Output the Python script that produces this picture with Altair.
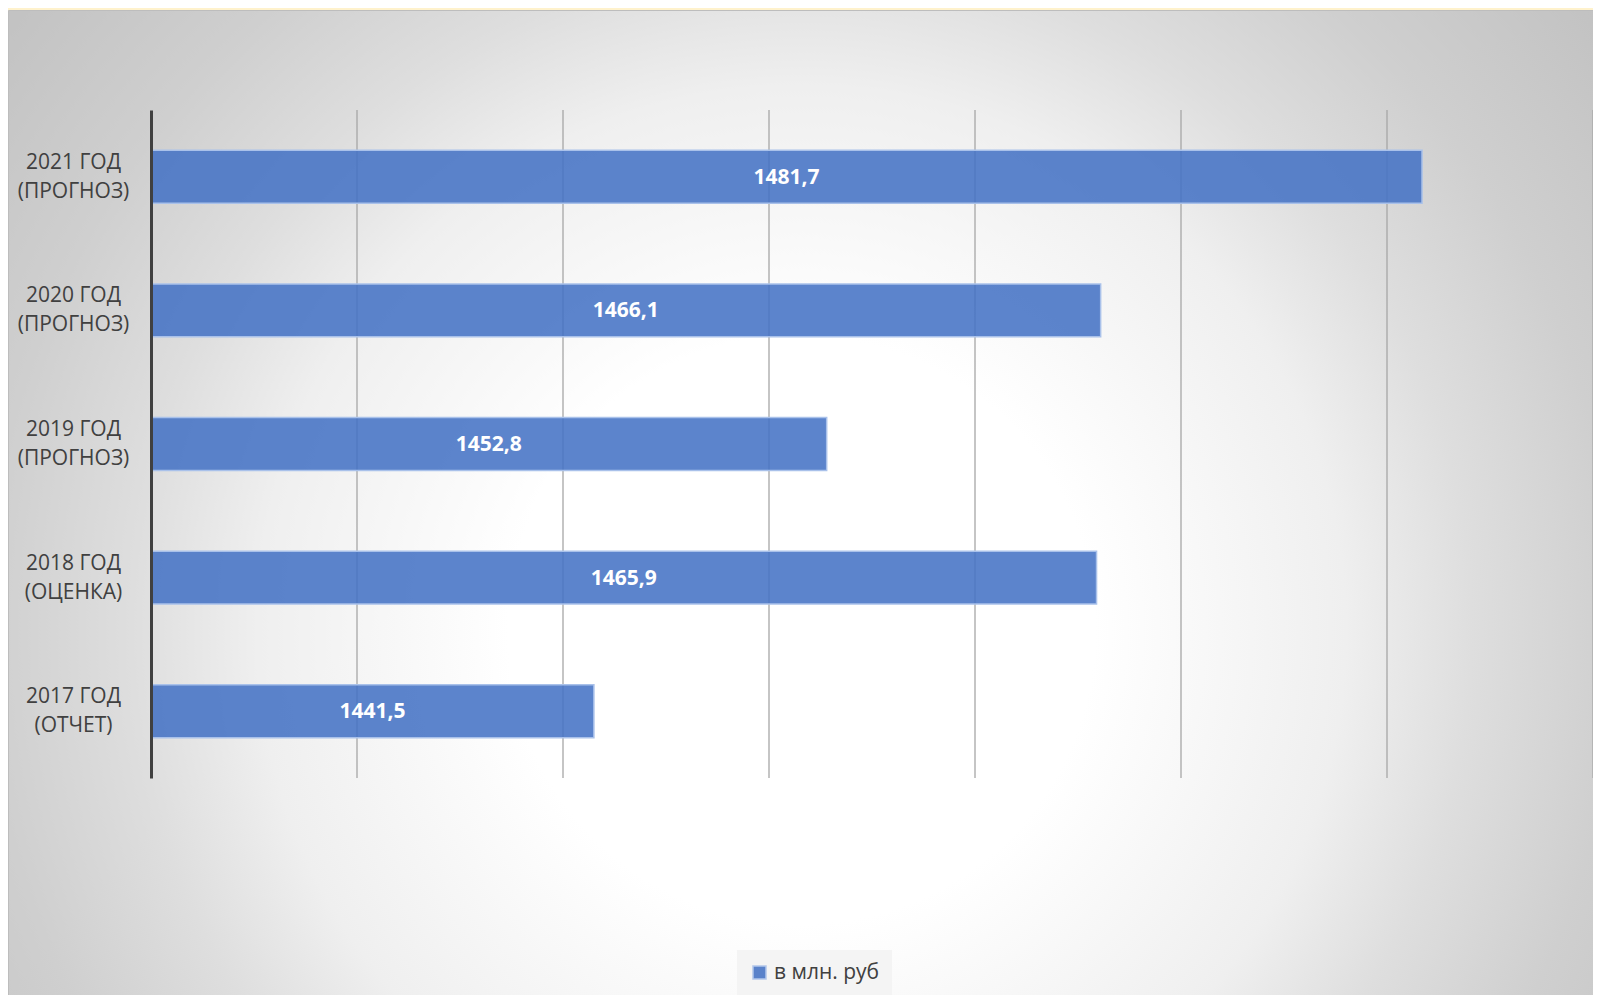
import altair as alt
import pandas as pd

# ---- data ----
categories = ["2021 ГОД|(ПРОГНОЗ)", "2020 ГОД|(ПРОГНОЗ)", "2019 ГОД|(ПРОГНОЗ)",
              "2018 ГОД|(ОЦЕНКА)", "2017 ГОД|(ОТЧЕТ)"]
values = [1481.7, 1466.1, 1452.8, 1465.9, 1441.5]
series_name = "в млн. руб"
grid_ticks = [1430, 1440, 1450, 1460, 1470, 1480, 1490]
x_domain = [1420, 1490]

df = pd.DataFrame({"cat": categories, "v": values, "series": [series_name] * len(values)})
grid_df = pd.DataFrame({"v": grid_ticks})
bg_df = pd.DataFrame({"k": [0]})

FONT = "Open Sans"
TXT = "#404040"
PW, PH = 1442, 668
PAD = {"left": 143, "top": 102, "right": 0, "bottom": 217}

xscale = alt.Scale(domain=x_domain, nice=False, zero=False)

gradient = {
    "gradient": "radial",
    "x1": 0.5, "y1": 0.58, "r1": 0,
    "x2": 0.5, "y2": 0.58, "r2": 0.66,
    "stops": [
        {"offset": 0.0, "color": "#ffffff"},
        {"offset": 0.28, "color": "#ffffff"},
        {"offset": 0.52, "color": "#efefef"},
        {"offset": 0.64, "color": "#dedede"},
        {"offset": 0.78, "color": "#cfcfcf"},
        {"offset": 0.95, "color": "#c3c3c3"},
        {"offset": 1.0, "color": "#c1c1c1"},
    ],
}

background = alt.Chart(bg_df).mark_rect(
    fill=gradient, stroke="#bdbdbd", strokeWidth=1
).encode(
    x=alt.value(-PAD["left"] + 0.5), x2=alt.value(PW + PAD["right"] + 2),
    y=alt.value(-PAD["top"] + 2.5), y2=alt.value(PH + PAD["bottom"] + 2),
)

grid = alt.Chart(grid_df).mark_rule(color="#a6a6a6", strokeWidth=1.3).encode(
    x=alt.X("v:Q", scale=xscale, axis=None)
)

ysort = categories

bars = alt.Chart(df).mark_bar(
    fillOpacity=0.87, stroke="#a9c1ea", strokeWidth=1.5
).encode(
    x=alt.X("v:Q", scale=xscale, axis=None),
    x2=alt.datum(x_domain[0]),
    y=alt.Y(
        "cat:N", sort=ysort, title=None,
        scale=alt.Scale(paddingInner=0.604, paddingOuter=0.302),
        axis=alt.Axis(
            labelExpr="split(datum.label, '|')",
            labelAlign="center", labelBaseline="middle",
            labelPadding=78, labelOffset=-14, ticks=False, tickSize=0,
            labelFont=FONT, labelFontSize=21, labelColor=TXT,
            labelLineHeight=29, labelLimit=300,
            domainColor=TXT, domainWidth=3, grid=False, zindex=1,
        ),
    ),
    color=alt.Color(
        "series:N", scale=alt.Scale(range=["#4472C4"]),
        legend=alt.Legend(
            title=None, orient="none", legendX=586, legendY=840,
            symbolType="square", symbolSize=169, symbolOpacity=0.87,
            symbolStrokeColor="#a9c1ea", symbolStrokeWidth=1.5,
            labelFont=FONT, labelFontSize=21, labelColor=TXT,
            fillColor="#f4f4f4", padding=12, symbolOffset=0, labelOffset=4,
        ),
    ),
)

labels = alt.Chart(df).transform_calculate(
    mid="(" + str(x_domain[0]) + " + datum.v) / 2",
    txt="replace(format(datum.v, '.1f'), '.', ',')",
).mark_text(
    font=FONT, fontSize=21, fontWeight="bold", color="white",
    align="center", baseline="middle", dy=1,
).encode(
    x=alt.X("mid:Q", scale=xscale, axis=None),
    y=alt.Y("cat:N", sort=ysort),
    text="txt:N",
)

chart = alt.layer(background, grid, bars, labels).properties(
    width=PW, height=PH, padding=PAD, autosize="none", background="#FFF2CC"
).configure_view(stroke=None)

chart.save("out.html", embed_options={"renderer": "svg", "actions": False})
